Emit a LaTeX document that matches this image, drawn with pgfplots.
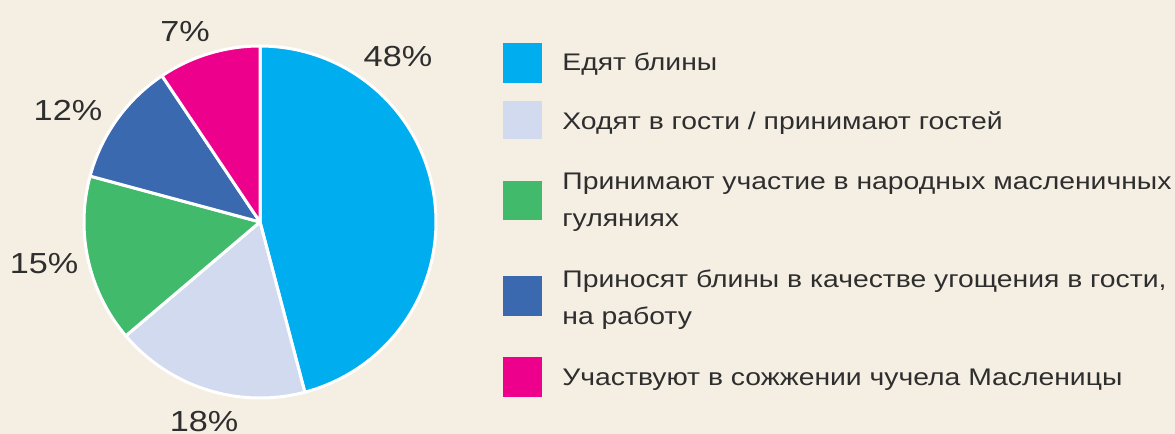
\documentclass[border=0pt]{standalone}
\usepackage{pgfplots}
\pgfplotsset{compat=1.18}
\usepackage{fontspec}
\setmainfont{Liberation Sans}[FakeStretch=1.18]

\definecolor{bg}{HTML}{F5EEE3}
\definecolor{txt}{HTML}{2E2E2E}
\definecolor{cA}{HTML}{00AEEF}
\definecolor{cB}{HTML}{D1DAEE}
\definecolor{cC}{HTML}{41BB6B}
\definecolor{cD}{HTML}{3A69AF}
\definecolor{cE}{HTML}{EC008C}

% shares of the pie as drawn (per cent), clockwise from 12 o'clock
\def\shA{45.9} % Едят блины (48%)
\def\shB{17.9} % Ходят в гости (18%)
\def\shC{15.4} % гуляния (15%)
\def\shD{11.4} % угощения (12%)
\def\shE{9.4}  % чучело (7%)
\pgfmathsetmacro\bA{90-3.6*\shA}
\pgfmathsetmacro\bB{\bA-3.6*\shB}
\pgfmathsetmacro\bC{\bB-3.6*\shC}
\pgfmathsetmacro\bD{\bC-3.6*\shD}
\pgfmathsetmacro\bE{\bD-3.6*\shE}

\begin{document}
\begin{tikzpicture}
\path[use as bounding box, fill=bg] (0,0) rectangle (587.5pt,217pt);
\begin{axis}[
  at={(130pt,106pt)}, anchor=center,
  x=88pt, y=88pt,
  xmin=-1, xmax=1, ymin=-1, ymax=1,
  hide axis, clip=false,
  every axis plot/.append style={draw=white, line width=1.5pt, samples=90, line join=round},
]
\addplot[fill=cA, domain=\bA:90] ({cos(x)},{sin(x)}) -- (axis cs:0,0) -- cycle;
\addplot[fill=cB, domain=\bB:\bA] ({cos(x)},{sin(x)}) -- (axis cs:0,0) -- cycle;
\addplot[fill=cC, domain=\bC:\bB] ({cos(x)},{sin(x)}) -- (axis cs:0,0) -- cycle;
\addplot[fill=cD, domain=\bD:\bC] ({cos(x)},{sin(x)}) -- (axis cs:0,0) -- cycle;
\addplot[fill=cE, domain=\bE:\bD] ({cos(x)},{sin(x)}) -- (axis cs:0,0) -- cycle;

\begin{scope}[every node/.style={font=\fontsize{14.5}{16}\selectfont, text=txt, inner sep=0pt}]
\node at (axis cs:0.784,0.9375) {48\%};
\node at (axis cs:-0.426,1.0795) {7\%};
\node at (axis cs:-1.091,0.636) {12\%};
\node at (axis cs:-1.227,-0.239) {15\%};
\node at (axis cs:-0.318,-1.134) {18\%};
\end{scope}
\end{axis}

% legend
\begin{scope}[every node/.style={font=\fontsize{12}{18.5}\selectfont, text=txt, inner sep=0pt, anchor=base west}]
\fill[cA] (251.5pt,175.5pt) rectangle (271pt,195.5pt);
\fill[cB] (251.5pt,147.5pt) rectangle (271pt,166.5pt);
\fill[cC] (251.5pt,107pt)   rectangle (271pt,126.5pt);
\fill[cD] (251.5pt,59pt)    rectangle (271pt,79pt);
\fill[cE] (251.5pt,18.5pt)  rectangle (271pt,38.5pt);
\node at (281pt,181.5pt) {Едят блины};
\node at (281pt,152pt)   {Ходят в гости / принимают гостей};
\node at (281pt,122pt)   {Принимают участие в народных масленичных};
\node at (281pt,103.5pt) {гуляниях};
\node at (281pt,73pt)    {Приносят блины в качестве угощения в гости,};
\node at (281pt,54.5pt)  {на работу};
\node at (281pt,24pt)    {Участвуют в сожжении чучела Масленицы};
\end{scope}
\end{tikzpicture}
\end{document}
